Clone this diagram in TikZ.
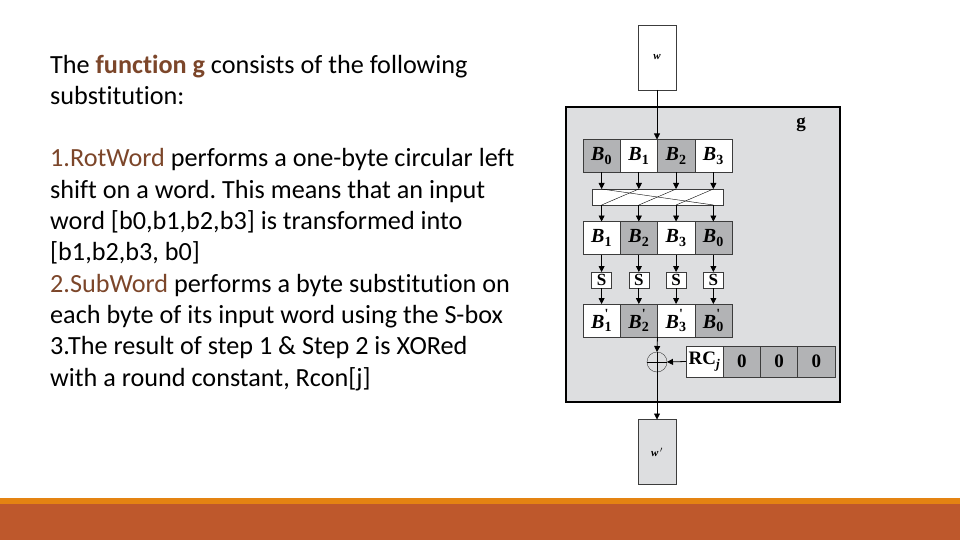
\documentclass[tikz,border=0pt]{standalone}
\usepackage{fontspec}
\setmainfont{Carlito}[Ligatures=NoCommon]
\newfontfamily\diagfont{Liberation Serif}
\usetikzlibrary{arrows.meta,positioning}
\frenchspacing

\definecolor{accentbrown}{RGB}{124,70,42}
\definecolor{bargold}{RGB}{228,131,18}
\definecolor{barrust}{RGB}{190,88,44}
\definecolor{cellgray}{RGB}{178,179,181}
\definecolor{panelgray}{RGB}{221,222,224}
\definecolor{edgegray}{RGB}{60,60,60}

\newcommand{\byteB}[1]{B\textsubscript{\upshape#1}}
\newcommand{\byteBp}[1]{B\rlap{\raisebox{0.2ex}{\textsuperscript{\upshape'}}}\textsubscript{\upshape#1}}

\tikzset{
  wcell/.style={draw=edgegray, fill=white, outer sep=0pt, minimum width=37.25pt,
    minimum height=33pt, inner sep=0pt,
    font=\diagfont\bfseries\itshape\fontsize{20}{20}\selectfont},
  gcell/.style={wcell, fill=cellgray},
  sbox/.style={draw=edgegray, fill=white, outer sep=0pt, minimum width=20pt,
    minimum height=16pt, inner sep=0pt, font=\diagfont\bfseries\fontsize{17}{17}\selectfont},
  wordbox/.style={draw=edgegray, outer sep=0pt, minimum width=38pt, minimum height=65pt,
    font=\diagfont\bfseries\itshape\fontsize{11}{11}\selectfont},
  rcfont/.style={font=\diagfont\bfseries\fontsize{19}{19}\selectfont},
  arr/.style={-{Triangle[length=6pt,width=6pt]}, line width=0.8pt}
}

\begin{document}
\begin{tikzpicture}[x=1pt,y=-1pt]
  \useasboundingbox (0,0) rectangle (960,540);
  \fill[white] (0,0) rectangle (960,540);

  % bottom bar
  \fill[bargold] (0,498) rectangle (960,504);
  \fill[barrust] (0,504) rectangle (960,540);

  % description
  \node[anchor=north west, align=left, inner sep=0pt,
    font=\fontsize{26.2}{31.3}\selectfont] (desc) at (50,54.5)
    {The \textcolor{accentbrown}{\textbf{function g}} consists of the following\\
     substitution:\\[31.3pt]
     \textcolor{accentbrown}{1.RotWord} performs a one-byte circular left\\
     shift on a word. This means that an input\\
     word [b0,b1,b2,b3] is transformed into\\
     {[}b1,b2,b3, b0]\\
     \textcolor{accentbrown}{2.SubWord} performs a byte substitution on\\
     each byte of its input word using the S-box\\
     3.The result of step 1 \& Step 2 is XORed\\
     with a round constant, Rcon[j]};

  % function g
  \node[wordbox, fill=white] (w) at (657,57.5) {w};
  \node[draw=black, line width=2pt, fill=panelgray, minimum width=274pt,
    minimum height=295pt] (gbox) at (703,254.5) {};
  \node[font=\diagfont\bfseries\fontsize{19}{19}\selectfont] (glabel) at (801,125) {g};

  % input word
  \node[gcell] (r0) at (601.6,156) {\byteB{0}};
  \node[wcell, right=0pt of r0] (r1) {\byteB{1}};
  \node[gcell, right=0pt of r1] (r2) {\byteB{2}};
  \node[wcell, right=0pt of r2] (r3) {\byteB{3}};

  % rotation
  \node[draw=edgegray, fill=white, minimum width=131pt, minimum height=16pt,
    outer sep=0pt] (perm) at (657.5,197) {};
  \draw (perm.north -| r0) -- (perm.south -| r3);
  \draw (perm.north -| r1) -- (perm.south -| r0);
  \draw (perm.north -| r2) -- (perm.south -| r1);
  \draw (perm.north -| r3) -- (perm.south -| r2);

  % rotated word
  \node[wcell] (s0) at (601.6,238) {\byteB{1}};
  \node[gcell, right=0pt of s0] (s1) {\byteB{2}};
  \node[wcell, right=0pt of s1] (s2) {\byteB{3}};
  \node[gcell, right=0pt of s2] (s3) {\byteB{0}};

  % S-boxes
  \node[sbox, below=17.5pt of s0] (sb0) {S};
  \node[sbox, below=17.5pt of s1] (sb1) {S};
  \node[sbox, below=17.5pt of s2] (sb2) {S};
  \node[sbox, below=17.5pt of s3] (sb3) {S};

  % substituted word
  \node[wcell, below=16pt of sb0] (t0) {\byteBp{1}};
  \node[gcell, right=0pt of t0] (t1) {\byteBp{2}};
  \node[wcell, right=0pt of t1] (t2) {\byteBp{3}};
  \node[gcell, right=0pt of t2] (t3) {\byteBp{0}};

  % round constant
  \node[draw=edgegray, circle, minimum size=20pt, inner sep=0pt, outer sep=0pt] (xor) at (657,362) {};
  \draw (xor.north) -- (xor.south) (xor.west) -- (xor.east);
  \node[wcell, rcfont, minimum height=31pt] (rc) at (704.5,361.5) {RC\textsubscript{\itshape j}};
  \node[gcell, rcfont, minimum height=31pt, right=0pt of rc] (z1) {0};
  \node[gcell, rcfont, minimum height=31pt, right=0pt of z1] (z2) {0};
  \node[gcell, rcfont, minimum height=31pt, right=0pt of z2] (z3) {0};

  \node[wordbox, fill=panelgray] (wout) at (657,452) {w\,$'$};

  % connectors
  \draw[arr] (w.south) -- (w.south |- r0.north);
  \draw[arr] (r0.south) -- (r0 |- perm.north);
  \draw[arr] (r1.south) -- (r1 |- perm.north);
  \draw[arr] (r2.south) -- (r2 |- perm.north);
  \draw[arr] (r3.south) -- (r3 |- perm.north);
  \draw[arr] (perm.south -| s0) -- (s0.north);
  \draw[arr] (perm.south -| s1) -- (s1.north);
  \draw[arr] (perm.south -| s2) -- (s2.north);
  \draw[arr] (perm.south -| s3) -- (s3.north);
  \draw[arr] (s0.south) -- (sb0.north);
  \draw[arr] (s1.south) -- (sb1.north);
  \draw[arr] (s2.south) -- (sb2.north);
  \draw[arr] (s3.south) -- (sb3.north);
  \draw[arr] (sb0.south) -- (t0.north);
  \draw[arr] (sb1.south) -- (t1.north);
  \draw[arr] (sb2.south) -- (t2.north);
  \draw[arr] (sb3.south) -- (t3.north);
  \draw[arr] (t1.south east) -- (xor.north);
  \draw[arr] (rc.west) -- (xor.east);
  \draw[arr] (xor.south) -- (wout.north);
\end{tikzpicture}
\end{document}
